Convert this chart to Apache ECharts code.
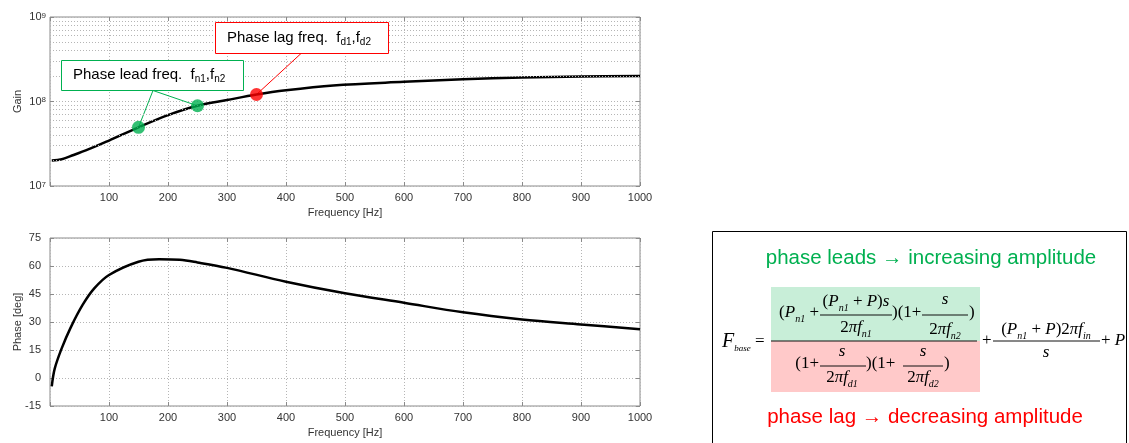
<!DOCTYPE html>
<html>
<head>
<meta charset="utf-8">
<script src="https://cdn.jsdelivr.net/npm/echarts@6/dist/echarts.min.js"></script>
<style>
html,body{margin:0;padding:0;background:#fff;}
#c{width:1129px;height:443px;}
</style>
</head>
<body>
<div id="c"></div>
<script>
// ---- data ----
const freqTicks = [100, 200, 300, 400, 500, 600, 700, 800, 900, 1000];
const gainFreq = [3, 20, 40, 70, 100, 150, 200, 250, 300, 350, 400, 480, 600, 700, 800, 900, 1000];
const gainVal = [2.0e7, 2.07e7, 2.33e7, 2.8e7, 3.45e7, 4.95e7, 6.9e7, 8.9e7, 1.04e8, 1.21e8, 1.36e8, 1.55e8, 1.71e8, 1.83e8, 1.92e8, 1.97e8, 2.0e8];
const phaseFreq = [3, 8, 20, 35, 55, 75, 100, 150, 185, 220, 250, 300, 400, 500, 600, 700, 800, 900, 1000];
const phaseVal = [-4.5, 5, 16, 27, 39, 48, 55.2, 62.3, 63.6, 63.3, 61.9, 59, 51.6, 45.4, 40.3, 35.2, 31.4, 28.7, 26.1];
const leadFreq = [150, 250];
const leadGain = [4.95e7, 8.9e7];
const lagFreq = [350];
const lagGain = [1.21e8];
const gainMinor = [2e7, 3e7, 4e7, 5e7, 6e7, 7e7, 8e7, 9e7, 2e8, 3e8, 4e8, 5e8, 6e8, 7e8, 8e8, 9e8];
const phaseTicks = [-15, 0, 15, 30, 45, 60, 75];

const GREEN = '#00b050', RED = '#ff0000';
const SANS = "'Liberation Sans', Arial, Helvetica, sans-serif";
const SERIF = "'Liberation Serif', 'Times New Roman', serif";
const chart = echarts.init(document.getElementById('c'));

const gridDef = (top, h) => ({left: 50, width: 590, top: top, height: h, show: true, borderColor: '#8a8a8a', borderWidth: 1, backgroundColor: '#fff', containLabel: false, outerBoundsMode: 'none'});
const dotted = {show: true, lineStyle: {color: '#b5b5b5', type: [1, 2], width: 1}};
const lab = {color: '#333', fontFamily: SANS, fontSize: 11};
const tick = {show: true, inside: true, length: 4, lineStyle: {color: '#8a8a8a'}};

function xMain(gi) {
  return {type: 'value', gridIndex: gi, position: 'bottom', min: 0, max: 1000, interval: 100,
    axisLine: {show: false, onZero: false}, axisTick: tick,
    axisLabel: Object.assign({margin: 6, formatter: v => v === 0 ? '' : String(v)}, lab),
    splitLine: dotted,
    name: 'Frequency [Hz]', nameLocation: 'middle', nameGap: 21, nameMoveOverlap: false,
    nameTextStyle: {color: '#333', fontFamily: SANS, fontSize: 11}};
}
function xTop(gi) {
  return {type: 'value', gridIndex: gi, position: 'top', min: 0, max: 1000, interval: 100,
    axisLine: {show: false, onZero: false}, axisTick: tick,
    axisLabel: {show: false}, splitLine: {show: false}};
}

const option = {
  animation: false,
  grid: [gridDef(17, 169), gridDef(238, 168)],
  xAxis: [xMain(0), xMain(1), xTop(0), xTop(1)],
  yAxis: [
    {type: 'log', logBase: 10, gridIndex: 0, position: 'left', min: 1e7, max: 1e9,
      axisLine: {show: false, onZero: false}, axisTick: tick,
      axisLabel: Object.assign({margin: 4, formatter: v => '10{sup|' + Math.round(Math.log10(v)) + '}',
        rich: {sup: {fontSize: 8, verticalAlign: 'top', lineHeight: 8, color: '#333', fontFamily: SANS, padding: [0, 0, 6, 0]}}}, lab),
      splitLine: dotted,
      name: 'Gain', nameLocation: 'middle', nameGap: 27, nameRotate: 90, nameMoveOverlap: false,
      nameTextStyle: {color: '#333', fontFamily: SANS, fontSize: 11}},
    {type: 'value', gridIndex: 1, position: 'left', min: -15, max: 75, interval: 15,
      axisLine: {show: false, onZero: false}, axisTick: tick,
      axisLabel: Object.assign({margin: 9}, lab),
      splitLine: dotted,
      name: 'Phase [deg]', nameLocation: 'middle', nameGap: 27, nameRotate: 90, nameMoveOverlap: false,
      nameTextStyle: {color: '#333', fontFamily: SANS, fontSize: 11}},
    {type: 'log', logBase: 10, gridIndex: 0, position: 'right', min: 1e7, max: 1e9,
      axisLine: {show: false, onZero: false}, axisTick: tick,
      axisLabel: {show: false}, splitLine: {show: false}},
    {type: 'value', gridIndex: 1, position: 'right', min: -15, max: 75, interval: 15,
      axisLine: {show: false, onZero: false}, axisTick: tick,
      axisLabel: {show: false}, splitLine: {show: false}}
  ],
  series: [
    {type: 'line', xAxisIndex: 0, yAxisIndex: 0, z: 3,
      data: gainFreq.map((f, i) => [f, gainVal[i]]),
      smooth: 0.35, symbol: 'none',
      lineStyle: {color: '#000', width: 2.5},
      markLine: {silent: true, symbol: ['none', 'none'], label: {show: false},
        lineStyle: {color: '#b5b5b5', type: [1, 2], width: 1},
        data: gainMinor.map(v => ({yAxis: v}))}},
    {type: 'scatter', xAxisIndex: 0, yAxisIndex: 0, z: 6, symbolSize: 13,
      itemStyle: {color: GREEN}, data: leadFreq.map((f, i) => [f, leadGain[i]])},
    {type: 'scatter', xAxisIndex: 0, yAxisIndex: 0, z: 6, symbolSize: 13,
      itemStyle: {color: RED}, data: lagFreq.map((f, i) => [f, lagGain[i]])},
    {type: 'line', xAxisIndex: 1, yAxisIndex: 1, z: 3,
      data: phaseFreq.map((f, i) => [f, phaseVal[i]]),
      smooth: 0.35, symbol: 'none',
      lineStyle: {color: '#000', width: 2.5}}
  ]
};
chart.setOption(option);

// ---- annotations & formula ----
const g = [];
const FS = 17;
const rich = {
  r: {fontFamily: SERIF, fontSize: FS, lineHeight: 22, verticalAlign: 'middle', color: '#111'},
  i: {fontFamily: SERIF, fontSize: FS, fontStyle: 'italic', lineHeight: 22, verticalAlign: 'middle', color: '#111'},
  F: {fontFamily: SERIF, fontSize: 20, fontStyle: 'italic', lineHeight: 22, verticalAlign: 'middle', color: '#111'},
  s: {fontFamily: SERIF, fontSize: 10, fontStyle: 'italic', lineHeight: 10, verticalAlign: 'bottom', color: '#111'},
  b: {fontFamily: SERIF, fontSize: 9, fontStyle: 'italic', lineHeight: 9, verticalAlign: 'bottom', color: '#111'}
};
function txt(x, y, s, align) {
  g.push({type: 'text', x: x, y: y, z: 20, style: {text: s, rich: rich, align: align || 'left', verticalAlign: 'middle'}});
}
function bar(x1, x2, y) {
  g.push({type: 'line', z: 20, shape: {x1: x1, y1: y, x2: x2, y2: y}, style: {stroke: '#111', lineWidth: 1}});
}
// formula box
g.push({type: 'rect', z: 10, shape: {x: 712.5, y: 231.5, width: 414, height: 240}, style: {fill: '#fff', stroke: '#000', lineWidth: 1}});
g.push({type: 'rect', z: 11, shape: {x: 771, y: 287, width: 209, height: 54}, style: {fill: '#c8eed8'}});
g.push({type: 'rect', z: 11, shape: {x: 771, y: 341, width: 209, height: 51}, style: {fill: '#ffc9c9'}});
g.push({type: 'text', x: 931, y: 258, z: 20, style: {text: 'phase leads \u2192 increasing amplitude', fill: GREEN, font: '20.5px ' + SANS, align: 'center', verticalAlign: 'middle'}});
g.push({type: 'text', x: 925, y: 417, z: 20, style: {text: 'phase lag \u2192 decreasing amplitude', fill: RED, font: '20.5px ' + SANS, align: 'center', verticalAlign: 'middle'}});
// F_base =
txt(722, 342, '{F|F}{b|base}{r| =}');
// numerator
txt(819, 313, '{r|(}{i|P}{s|n1}{r| +}', 'right');
txt(856, 302, '{r|(}{i|P}{s|n1}{r| + }{i|P}{r|)}{i|s}', 'center');
bar(820, 892, 315);
txt(856, 328, '{r|2}{i|\u03c0f}{s|n1}', 'center');
txt(892, 313, '{r|)(1+}');
txt(945, 300, '{i|s}', 'center');
bar(922, 968, 315);
txt(945, 330, '{r|2}{i|\u03c0f}{s|n2}', 'center');
txt(969, 313, '{r|)}');
bar(771, 977, 341);
// denominator
txt(819, 364, '{r|(1+}', 'right');
txt(842, 352, '{i|s}', 'center');
bar(820, 866, 366);
txt(842, 378, '{r|2}{i|\u03c0f}{s|d1}', 'center');
txt(866, 364, '{r|)(1+}');
txt(923, 352, '{i|s}', 'center');
bar(903, 943, 366);
txt(923, 378, '{r|2}{i|\u03c0f}{s|d2}', 'center');
txt(944, 364, '{r|)}');
// second term
txt(982, 341, '{r|+}');
txt(1046, 330, '{r|(}{i|P}{s|n1}{r| + }{i|P}{r|)2}{i|\u03c0f}{s|in}', 'center');
bar(993, 1100, 341);
txt(1046, 353, '{i|s}', 'center');
txt(1101, 341, '{r|+ }{i|P}');

// annotation boxes
const arich = (c) => ({
  t: {fontFamily: SANS, fontSize: 15, color: c, lineHeight: 18, verticalAlign: 'middle'},
  s: {fontFamily: SANS, fontSize: 10, color: c, lineHeight: 10, verticalAlign: 'bottom'}
});
g.push({type: 'rect', z: 8, shape: {x: 215.5, y: 22.5, width: 173, height: 31}, style: {fill: '#fff', stroke: RED, lineWidth: 1}});
g.push({type: 'text', x: 227, y: 38, z: 9, style: {text: '{t|Phase lag freq.  f}{s|d1}{t|,f}{s|d2}', rich: arich(RED), verticalAlign: 'middle'}});
g.push({type: 'rect', z: 8, shape: {x: 61.5, y: 60.5, width: 182, height: 30}, style: {fill: '#fff', stroke: GREEN, lineWidth: 1}});
g.push({type: 'text', x: 73, y: 75, z: 9, style: {text: '{t|Phase lead freq.  f}{s|n1}{t|,f}{s|n2}', rich: arich(GREEN), verticalAlign: 'middle'}});

// leader lines to the points (positions from the axes)
const lp = leadFreq.map((f, i) => chart.convertToPixel({gridIndex: 0}, [f, leadGain[i]]));
const rp = lagFreq.map((f, i) => chart.convertToPixel({gridIndex: 0}, [f, lagGain[i]]));
lp.forEach(p => g.push({type: 'line', z: 1, shape: {x1: 153, y1: 90.5, x2: p[0], y2: p[1]}, style: {stroke: GREEN, lineWidth: 1}}));
rp.forEach(p => g.push({type: 'line', z: 1, shape: {x1: 301, y1: 53.5, x2: p[0], y2: p[1]}, style: {stroke: RED, lineWidth: 1}}));

chart.setOption({graphic: {elements: g}});
</script>
</body>
</html>
